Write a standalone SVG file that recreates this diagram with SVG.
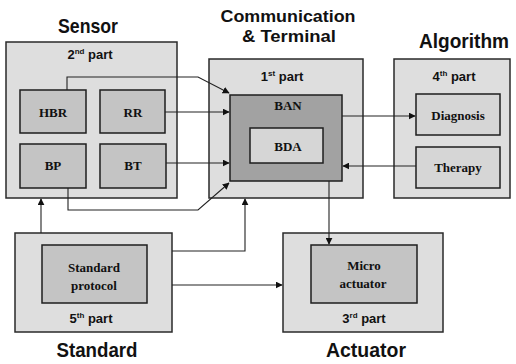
<svg xmlns="http://www.w3.org/2000/svg" width="516" height="364" viewBox="0 0 516 364">
  <defs>
    <marker id="arr" viewBox="0 0 10 10" refX="9" refY="5" markerWidth="7" markerHeight="7" orient="auto" markerUnits="userSpaceOnUse">
      <path d="M0,0 L10,5 L0,10 z" fill="#111"/>
    </marker>
    <style>
      .outer { fill: #dedede; stroke: #2a2a2a; stroke-width: 1.5; }
      .inner { fill: #c4c4c4; stroke: #1e1e1e; stroke-width: 1.5; }
      .dark { fill: #a2a2a2; stroke: #1e1e1e; stroke-width: 1.5; }
      .light { fill: #d6d6d6; stroke: #1e1e1e; stroke-width: 1.5; }
      .title { font-family: "Liberation Sans", "DejaVu Sans", sans-serif; font-weight: 900; fill: #111; text-anchor: middle; }
      .part { font-family: "Liberation Sans", Arial, sans-serif; font-weight: bold; font-size: 13px; fill: #111; text-anchor: middle; }
      .lbl { font-family: "Liberation Serif", "Times New Roman", serif; font-weight: bold; font-size: 13px; fill: #111; text-anchor: middle; }
      .sup { font-size: 8px; }
      .wire { fill: none; stroke: #222; stroke-width: 1.1; }
    </style>
  </defs>

  <rect width="516" height="364" fill="#ffffff"/>

  <!-- Sensor -->
  <g id="sensor">
    <text class="title" x="88" y="33" font-size="21" textLength="60" lengthAdjust="spacingAndGlyphs">Sensor</text>
    <rect class="outer" x="6" y="42" width="171" height="156"/>
    <text class="part" x="90" y="59">2<tspan class="sup" dy="-5">nd</tspan><tspan dy="5"> part</tspan></text>
  </g>
  <g id="hbr">
    <rect class="inner" x="20" y="90" width="66" height="43"/>
    <text class="lbl" x="53" y="117">HBR</text>
  </g>
  <g id="rr">
    <rect class="inner" x="100" y="90" width="65" height="43"/>
    <text class="lbl" x="133" y="117">RR</text>
  </g>
  <g id="bp">
    <rect class="inner" x="20" y="144" width="66" height="44"/>
    <text class="lbl" x="53" y="170">BP</text>
  </g>
  <g id="bt">
    <rect class="inner" x="100" y="144" width="66" height="44"/>
    <text class="lbl" x="133" y="170">BT</text>
  </g>

  <!-- Communication & Terminal -->
  <g id="communication">
    <text class="title" x="288" y="22" font-size="17" textLength="135" lengthAdjust="spacingAndGlyphs">Communication</text>
    <text class="title" x="289" y="42" font-size="17" textLength="94" lengthAdjust="spacingAndGlyphs">&amp; Terminal</text>
    <rect class="outer" x="209" y="59" width="154" height="139"/>
    <text class="part" x="282" y="81">1<tspan class="sup" dy="-5">st</tspan><tspan dy="5"> part</tspan></text>
  </g>
  <g id="ban">
    <rect class="dark" x="230" y="95" width="112" height="86"/>
    <text class="lbl" x="288" y="110">BAN</text>
  </g>
  <g id="bda">
    <rect class="light" x="250" y="128" width="73" height="35"/>
    <text class="lbl" x="288" y="151" font-size="14">BDA</text>
  </g>

  <!-- Algorithm -->
  <g id="algorithm">
    <text class="title" x="464" y="48" font-size="20" textLength="90" lengthAdjust="spacingAndGlyphs">Algorithm</text>
    <rect class="outer" x="394" y="59" width="116" height="139"/>
    <text class="part" x="454" y="81">4<tspan class="sup" dy="-5">th</tspan><tspan dy="5"> part</tspan></text>
  </g>
  <g id="diagnosis">
    <rect class="light" x="416" y="94" width="84" height="41"/>
    <text class="lbl" x="458" y="120">Diagnosis</text>
  </g>
  <g id="therapy">
    <rect class="light" x="416" y="147" width="84" height="41"/>
    <text class="lbl" x="458" y="172">Therapy</text>
  </g>

  <!-- Standard -->
  <g id="standard">
    <rect class="outer" x="15" y="233" width="157" height="99"/>
    <rect class="inner" x="42" y="245" width="105" height="58" fill="#b8b8b8"/>
    <text class="lbl" x="94" y="272">Standard</text>
    <text class="lbl" x="94" y="290">protocol</text>
    <text class="part" x="91" y="323">5<tspan class="sup" dy="-5">th</tspan><tspan dy="5"> part</tspan></text>
    <text class="title" x="97" y="357" font-size="20" textLength="81" lengthAdjust="spacingAndGlyphs">Standard</text>
  </g>

  <!-- Actuator -->
  <g id="actuator">
    <rect class="outer" x="283" y="233" width="160" height="99"/>
    <rect class="inner" x="311" y="245" width="106" height="58" fill="#c8c8c8"/>
    <text class="lbl" x="364" y="270">Micro</text>
    <text class="lbl" x="363" y="288">actuator</text>
    <text class="part" x="364" y="323">3<tspan class="sup" dy="-5">rd</tspan><tspan dy="5"> part</tspan></text>
    <text class="title" x="366" y="357" font-size="20" textLength="80" lengthAdjust="spacingAndGlyphs">Actuator</text>
  </g>

  <!-- Connectors -->
  <g id="connectors" class="wire">
    <polyline points="67,90 67,77 198,77 229,93" marker-end="url(#arr)"/>
    <polyline points="165,112 229,112" marker-end="url(#arr)"/>
    <polyline points="166,163 229,163" marker-end="url(#arr)"/>
    <polyline points="68,188 68,210 198,210 229,183" marker-end="url(#arr)"/>
    <polyline points="41,233 41,199" marker-end="url(#arr)"/>
    <polyline points="172,251 245,251 245,199" marker-end="url(#arr)"/>
    <polyline points="172,285 282,285" marker-end="url(#arr)"/>
    <polyline points="329,181 329,244" marker-end="url(#arr)"/>
    <polyline points="342,116 415,116" marker-end="url(#arr)"/>
    <polyline points="416,166 343,166" marker-end="url(#arr)"/>
  </g>
</svg>
